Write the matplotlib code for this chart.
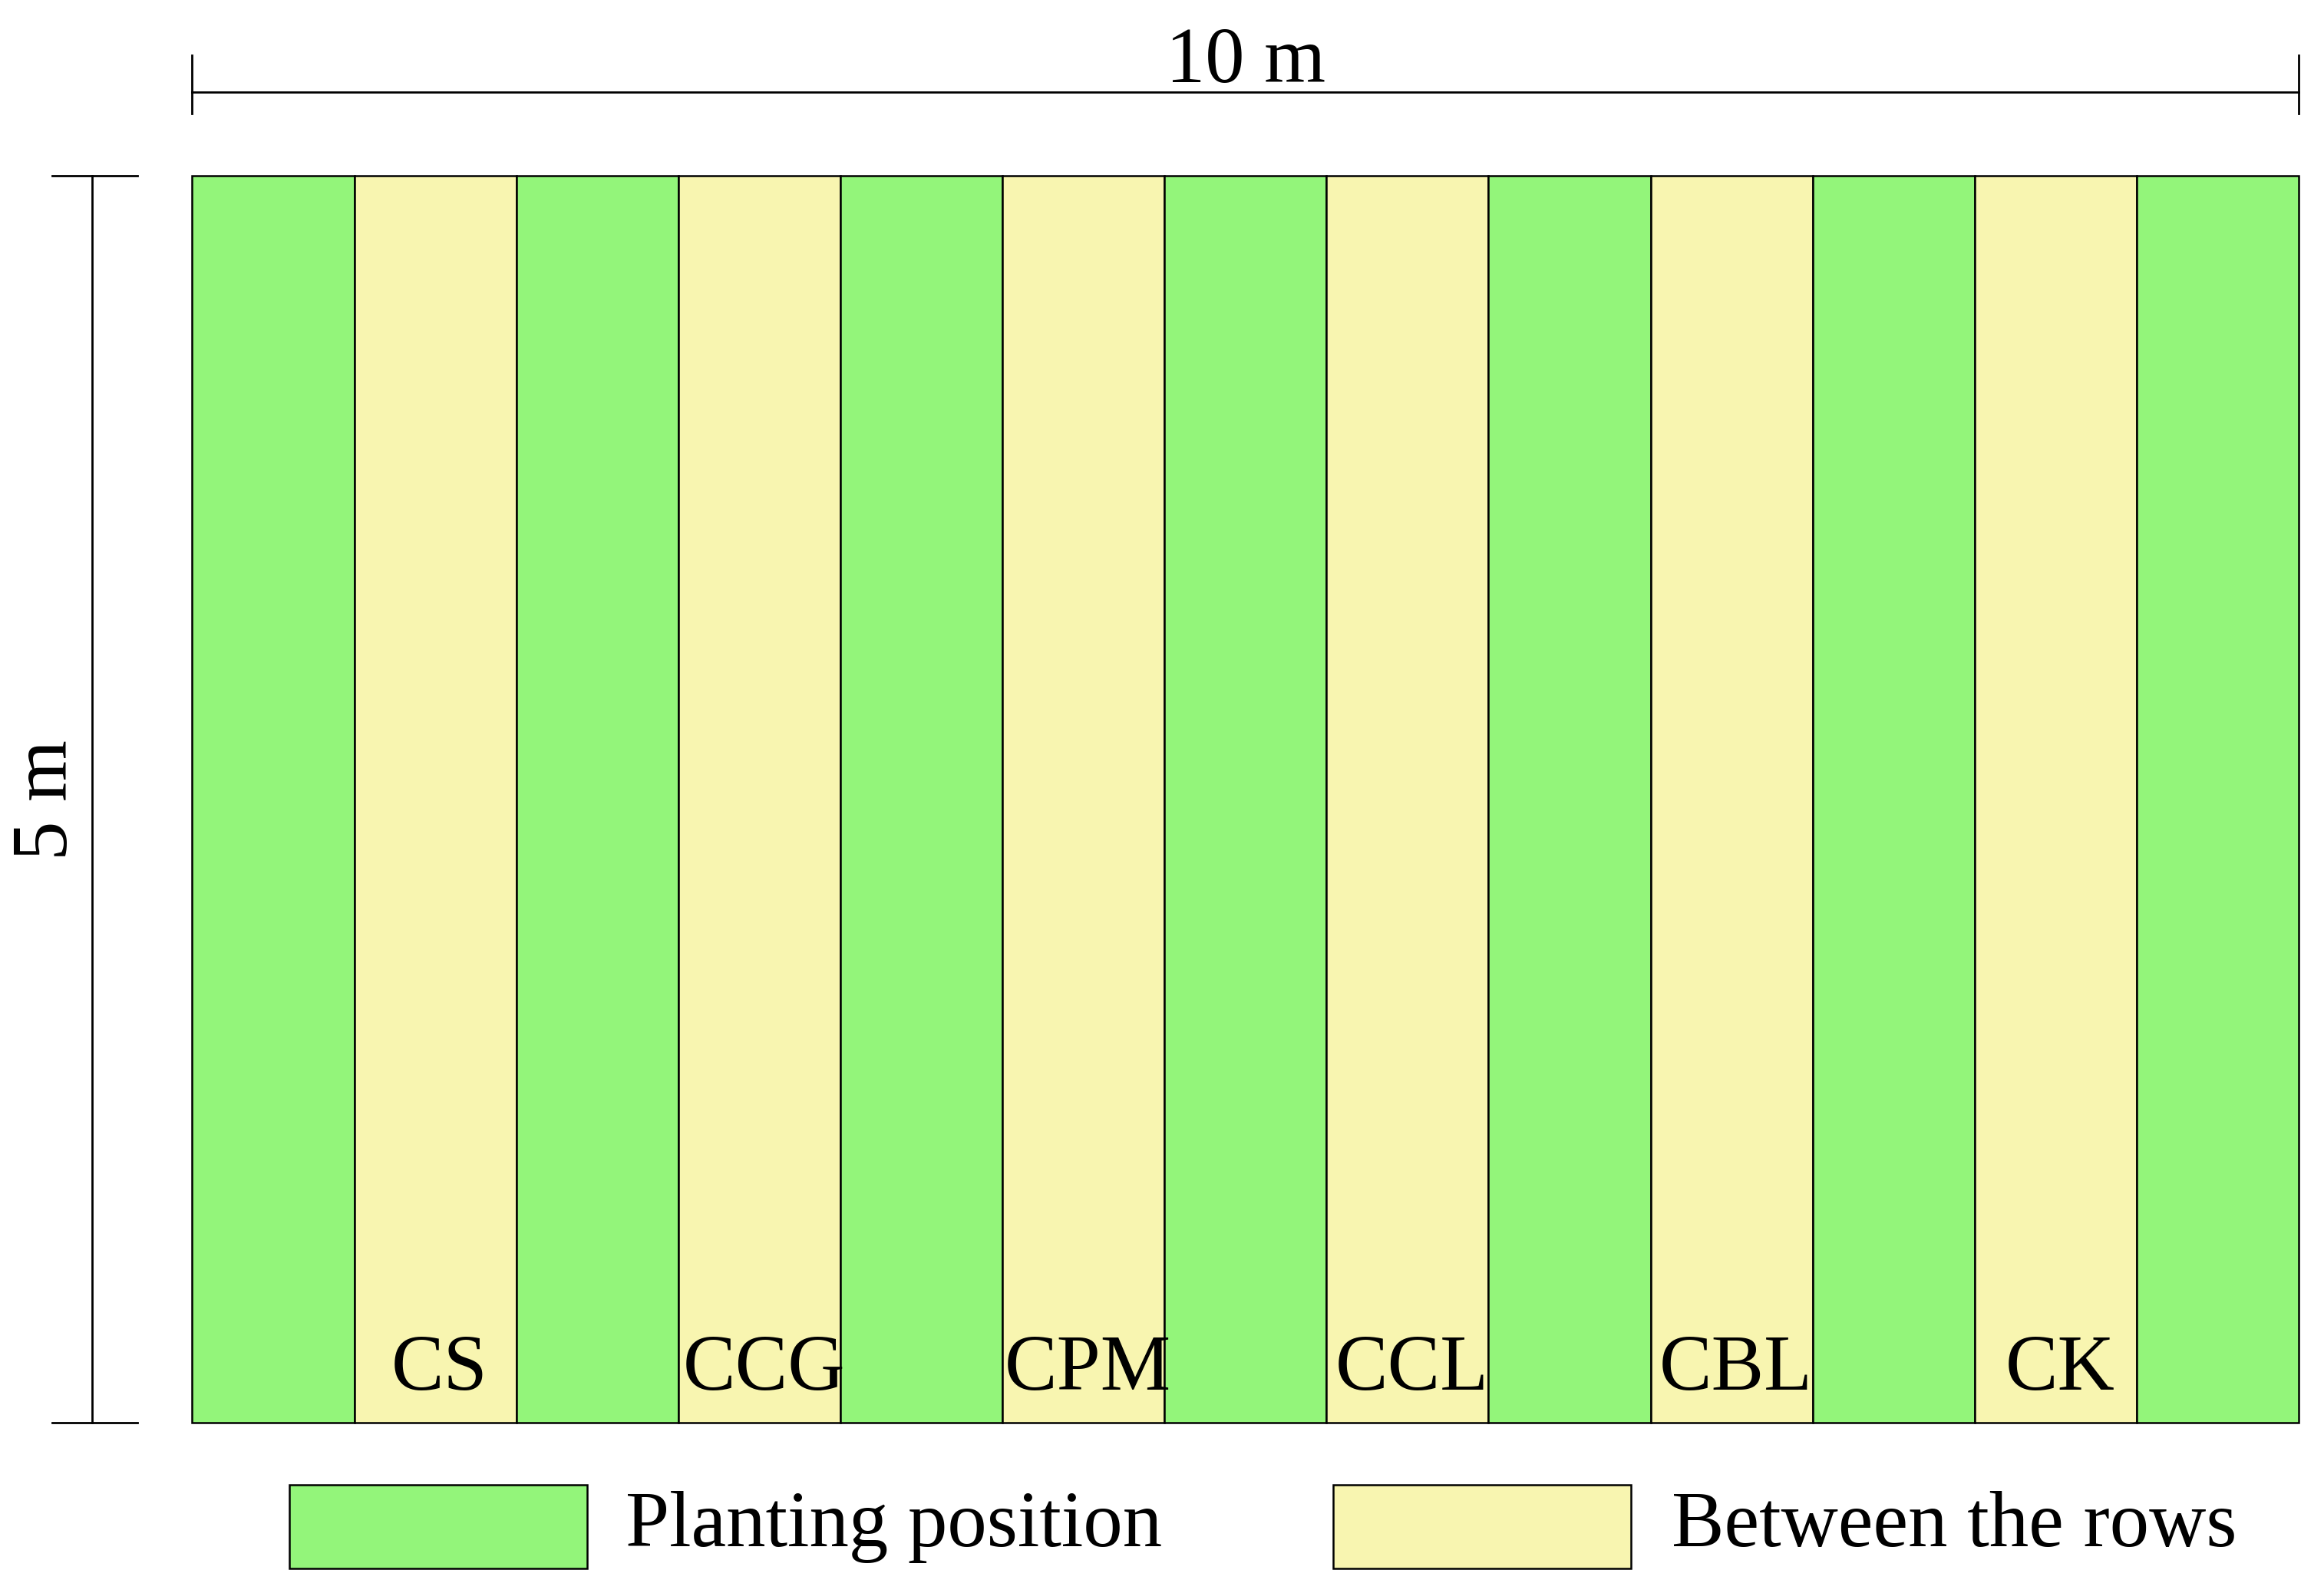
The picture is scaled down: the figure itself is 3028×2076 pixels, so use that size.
import matplotlib.pyplot as plt
from matplotlib.patches import Rectangle

# strip layout (13 strips across 10 m, 5 m deep)
strip_kind = ["plant", "row", "plant", "row", "plant", "row", "plant",
              "row", "plant", "row", "plant", "row", "plant"]
row_labels = ["CS", "CCG", "CPM", "CCL", "CBL", "CK"]
colors = {"plant": "#93f57a", "row": "#f8f5b0"}
legend_names = {"plant": "Planting position", "row": "Between the rows"}

plt.rcParams['font.family'] = ['Liberation Serif', 'DejaVu Serif']
fig = plt.figure(figsize=(30.28, 20.76), dpi=100)
ax = fig.add_axes([0, 0, 1, 1])
W, H = 1560, 1560 * 2076 / 3028
ax.set_xlim(0, W)
ax.set_ylim(H, 0)
ax.axis('off')

x0, x1, y0, y1 = 129, 1543, 118, 955
sw = (x1 - x0) / len(strip_kind)
li = 0
for i, k in enumerate(strip_kind):
    xs = x0 + i * sw
    ax.add_patch(Rectangle((xs, y0), sw, y1 - y0, fc=colors[k], ec='black', lw=1.8))
    if k == "row":
        ax.text(xs + sw / 2 + 3, 933, row_labels[li], ha='center', va='baseline', fontsize=74)
        li += 1

lw = 2
# top dimension
ax.plot([x0, x1], [62, 62], color='black', lw=lw)
for x in (x0, x1):
    ax.plot([x, x], [37, 76], color='black', lw=lw)
ax.text((x0 + x1) / 2, 55, "10 m", ha='center', va='baseline', fontsize=74)
# left dimension
ax.plot([62, 62], [y0, y1], color='black', lw=lw)
for y in (y0, y1):
    ax.plot([35, 92], [y, y], color='black', lw=lw)
ax.text(56, 537, "5 m", ha='right', va='center', rotation=90, fontsize=74)

# legend
for k, bx, tx in (("plant", 194, 420), ("row", 895, 1122)):
    ax.add_patch(Rectangle((bx, 997), 200, 56, fc=colors[k], ec='black', lw=1.8))
    ax.text(tx, 1038, legend_names[k], ha='left', va='baseline', fontsize=74)

fig.savefig("out.png", dpi=100)
